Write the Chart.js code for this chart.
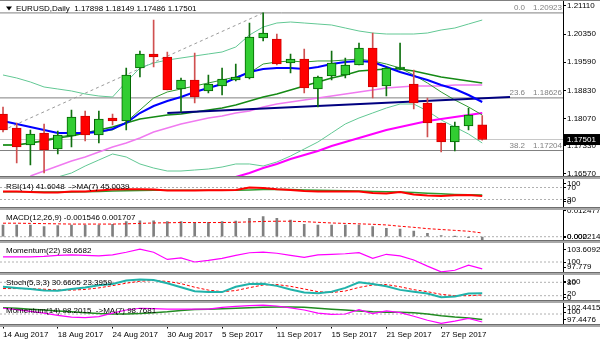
<!DOCTYPE html>
<html>
<head>
<meta charset="utf-8">
<style>
  html, body { margin: 0; padding: 0; background: #fff; }
  canvas { display: block; }
</style>
</head>
<body>
<canvas id="chart" width="600" height="343" style="width:600px;height:343px"></canvas>
<script src="https://cdn.jsdelivr.net/npm/chart.js@4.4.1/dist/chart.umd.min.js"></script>
<script>
// EURUSD daily, 14 Aug - 2 Oct 2017 (bar index 0..35)
const open = [1.18191, 1.17813, 1.17353, 1.17677, 1.17245, 1.17596, 1.18137, 1.17623, 1.18083, 1.18002,
  1.19434, 1.19813, 1.19731, 1.18867, 1.19110, 1.18813, 1.18948, 1.19110, 1.19164, 1.20245,
  1.20218, 1.19569, 1.19677, 1.18867, 1.19218, 1.19245, 1.19515, 1.19975, 1.18948, 1.19407,
  1.19002, 1.18488, 1.17948, 1.17434, 1.17867, 1.17898];
const high = [1.18380, 1.17948, 1.17759, 1.17921, 1.17732, 1.18299, 1.18272, 1.18272, 1.18191, 1.19434,
  1.19894, 1.20731, 1.19867, 1.19164, 1.19840, 1.19245, 1.19434, 1.19542, 1.20650, 1.20923,
  1.20353, 1.19813, 1.19948, 1.19218, 1.19894, 1.19704, 1.20110, 1.20380, 1.19461, 1.20110,
  1.19380, 1.18623, 1.17948, 1.17975, 1.18353, 1.18149];
const low = [1.17704, 1.16867, 1.16813, 1.16596, 1.17110, 1.17299, 1.17461, 1.17407, 1.17894, 1.17759,
  1.19191, 1.19461, 1.18840, 1.18245, 1.18488, 1.18759, 1.18704, 1.19083, 1.19137, 1.20164,
  1.19515, 1.19299, 1.18759, 1.18380, 1.19110, 1.19164, 1.19515, 1.18623, 1.18677, 1.19380,
  1.18326, 1.17569, 1.17164, 1.17191, 1.17759, 1.17486];
const close = [1.17759, 1.17299, 1.17650, 1.17218, 1.17623, 1.18110, 1.17623, 1.18056, 1.18002, 1.19245,
  1.19813, 1.19731, 1.18840, 1.19110, 1.18650, 1.19002, 1.19137, 1.19191, 1.20272, 1.20380,
  1.19542, 1.19677, 1.18894, 1.19191, 1.19569, 1.19515, 1.19975, 1.18921, 1.19434, 1.19461,
  1.18488, 1.17948, 1.17434, 1.17867, 1.18164, 1.17501];

// overlays on the price pane
const bbUpper = [1.19245, 1.19164, 1.19056, 1.18921, 1.18867, 1.18813, 1.18732, 1.18677, 1.18650, 1.19056,
  1.19434, 1.19569, 1.19650, 1.19704, 1.19759, 1.19813, 1.19867, 1.20002, 1.20326, 1.20542,
  1.20650, 1.20677, 1.20650, 1.20623, 1.20596, 1.20515, 1.20434, 1.20380, 1.20353, 1.20353,
  1.20353, 1.20380, 1.20461, 1.20515, 1.20623, 1.20731];
const bbMiddle = [1.17353, 1.17353, 1.17407, 1.17461, 1.17542, 1.17596, 1.17677, 1.17759, 1.17840, 1.17948,
  1.18056, 1.18110, 1.18164, 1.18191, 1.18245, 1.18299, 1.18353, 1.18434, 1.18542, 1.18650,
  1.18732, 1.18840, 1.18948, 1.19056, 1.19164, 1.19245, 1.19353, 1.19380, 1.19407, 1.19407,
  1.19353, 1.19272, 1.19191, 1.19137, 1.19083, 1.19029];
const bbLower = [null, null, null, null, 1.16488, 1.16596, 1.16785, 1.16948, 1.17110, 1.17029,
  1.16840, 1.16731, 1.16650, 1.16650, 1.16677, 1.16704, 1.16758, 1.16840, 1.16840, 1.16785,
  1.16894, 1.17056, 1.17245, 1.17434, 1.17677, 1.17921, 1.18083, 1.18218, 1.18353, 1.18461,
  1.18461, 1.18272, 1.18029, 1.17840, 1.17650, 1.17407];
const fastMa = [1.17353, 1.17353, 1.17407, 1.17488, 1.17569, 1.17623, 1.17677, 1.17704, 1.17759, 1.17975,
  1.18299, 1.18623, 1.18786, 1.18867, 1.18948, 1.19029, 1.19110, 1.19191, 1.19299, 1.19542,
  1.19596, 1.19624, 1.19596, 1.19624, 1.19624, 1.19650, 1.19677, 1.19624, 1.19542, 1.19434,
  1.19245, 1.19029, 1.18786, 1.18569, 1.18380, 1.18164];
const ma10 = [1.18002, 1.17921, 1.17840, 1.17759, 1.17677, 1.17677, 1.17677, 1.17704, 1.17786, 1.17948,
  1.18218, 1.18407, 1.18542, 1.18650, 1.18786, 1.18894, 1.19002, 1.19164, 1.19326, 1.19407,
  1.19434, 1.19434, 1.19407, 1.19461, 1.19542, 1.19596, 1.19624, 1.19596, 1.19461, 1.19326,
  1.19218, 1.19110, 1.18975, 1.18867, 1.18704, 1.18515];
const maPink = [null, null, 1.16515, 1.16650, 1.16785, 1.16921, 1.17029, 1.17164, 1.17299, 1.17407,
  1.17542, 1.17704, 1.17813, 1.17921, 1.18002, 1.18083, 1.18137, 1.18218, 1.18272, 1.18380,
  1.18461, 1.18515, 1.18569, 1.18623, 1.18677, 1.18732, 1.18786, 1.18840, 1.18894, 1.18921,
  1.18948, 1.18948, 1.18948, 1.18975, 1.18975, 1.18975];
const maMagenta = [null, null, null, null, null, null, null, null, null, null,
  null, null, null, null, null, null, null, 1.16488, 1.16596, 1.16731,
  1.16840, 1.16975, 1.17083, 1.17191, 1.17326, 1.17434, 1.17542, 1.17650, 1.17759, 1.17840,
  1.17921, 1.18002, 1.18056, 1.18110, 1.18164, 1.18218];
const trendX = [12, 37.03];
const trendY = [1.18218, 1.18650];
const fibTrendX = [0, 19];
const fibTrendY = [1.17750, 1.20923];
const fibLevels = [1.20923, 1.18626, 1.17204];
const fibNames = ['0.0', '23.6', '38.2'];
const fibText = ['1.20923', '1.18626', '1.17204'];
const bid = 1.17501;

// indicator panes
const rsi = [57, 57, 55, 53, 53, 57, 57, 60, 63, 64, 64, 63, 60, 60, 60, 61, 61, 62, 70, 68,
  64, 62, 58, 57, 57, 57, 57, 52, 50, 55, 47, 43, 42, 44, 45, 41.6048];
const rsiMa = [56, 56, 56, 55, 55, 55, 56, 57, 58, 59, 60, 61, 61, 61, 61, 61, 61, 61, 62, 63,
  63, 63, 62, 61, 60, 59, 58, 57, 56, 55, 53, 51, 49, 47, 46, 45.0039];
const macd = [0.00536, 0.00536, 0.00536, 0.00459, 0.00505, 0.00536, 0.00536, 0.00536, 0.00566, 0.00689,
  0.00734, 0.00734, 0.00689, 0.00689, 0.00658, 0.00658, 0.00689, 0.00719, 0.00842, 0.00918,
  0.00842, 0.00765, 0.00566, 0.00536, 0.00536, 0.00536, 0.00536, 0.00459, 0.00383, 0.00352,
  0.00260, 0.00153, 0.00046, 0.00005, -0.00046, -0.001546];
const macdSignal = [0.0062, 0.0062, 0.0061, 0.0060, 0.0059, 0.0058, 0.0058, 0.0058, 0.0058, 0.0059,
  0.0061, 0.0063, 0.0064, 0.0065, 0.0065, 0.0065, 0.0065, 0.0066, 0.0068, 0.0070,
  0.0071, 0.0071, 0.0069, 0.0066, 0.0063, 0.0061, 0.0059, 0.0057, 0.0054, 0.0048,
  0.0043, 0.0037, 0.0033, 0.0029, 0.0025, 0.001707];
const mom22 = [101.0, 101.0, 101.0, 101.1, 101.3, 101.4, 101.3, 101.2, 101.4, 101.9,
  102.5, 101.9, 100.5, 100.8, 100.0, 100.3, 100.7, 101.3, 101.8, 101.9,
  101.7, 101.3, 100.9, 101.4, 101.5, 101.6, 101.8, 100.7, 101.5, 101.2,
  100.4, 99.2, 98.1, 98.4, 99.4, 98.6682];
const stochMain = [60, 55, 50, 43, 42, 50, 57, 67, 72, 88, 92, 90, 76, 58, 40, 36, 36, 60, 72, 73,
  64, 48, 34, 31, 38, 55, 80, 72, 62, 46, 38, 30, 13, 16, 30, 30.6605];
const stochSignal = [52, 52, 51, 49, 46, 45, 48, 55, 65, 76, 85, 88, 84, 74, 58, 45, 38, 43, 56, 68,
  70, 62, 50, 38, 34, 41, 57, 68, 70, 60, 47, 38, 26, 20, 20, 23.3959];
const mom14 = [101.3, 101.0, 100.6, 100.2, 99.7, 99.3, 99.2, 99.4, 100.2, 100.9,
  101.3, 101.2, 101.1, 101.1, 101.1, 101.1, 101.5, 101.7, 101.9, 102.0,
  101.8, 101.4, 100.9, 100.2, 99.9, 100.0, 101.0, 100.1, 100.7, 100.3,
  99.5, 98.6, 97.9, 98.4, 99.0, 98.2015];
const mom14Ma = [101.4, 101.3, 101.1, 100.9, 100.7, 100.5, 100.3, 100.1, 100.0, 100.0,
  100.1, 100.3, 100.5, 100.8, 101.0, 101.1, 101.2, 101.3, 101.4, 101.5,
  101.6, 101.6, 101.5, 101.3, 101.1, 100.9, 100.7, 100.5, 100.4, 100.4,
  100.3, 100.0, 99.6, 99.3, 99.1, 98.7681];

// axis ticks
const dateIdx = [0, 4, 8, 12, 16, 20, 24, 28, 32];
const dateLabels = ['14 Aug 2017', '18 Aug 2017', '24 Aug 2017', '30 Aug 2017', '5 Sep 2017',
  '11 Sep 2017', '15 Sep 2017', '21 Sep 2017', '27 Sep 2017'];
const priceTicks = [1.21110, 1.20350, 1.19590, 1.18830, 1.18070, 1.17330, 1.16570];
const priceTickText = ['1.21110', '1.20350', '1.19590', '1.18830', '1.18070', '1.17330', '1.16570'];
const rsiTicks = [82, 70, 30, 23];
const rsiTickText = ['100', '70', '30', '0'];
const rsiLevels = [70, 30];
const macdTicks = [0.0120, 0, -0.0002];
const macdTickText = ['0.012477', '0.000', '0.002214'];
const mom22Ticks = [102.43, 100, 99.0];
const mom22TickText = ['103.6092', '100', '97.779'];
const stochTicks = [84, 80, 27, 12];
const stochTickText = ['100', '80', '20', '0'];
const stochLevels = [80, 20];
const mom14Ticks = [101.42, 100.45, 98.72];
const mom14TickText = ['102.4415', '100', '97.4476'];

const X_MIN = -0.22, X_MAX = 40.9;
const UP = '#32cd32', UP_EDGE = '#006400', DOWN = '#ff0000', DOWN_EDGE = '#d00000';

Chart.defaults.font.family = "'Liberation Sans', Arial, sans-serif";
Chart.defaults.font.size = 8;
Chart.defaults.color = '#000';

const pts = arr => arr.map((v, i) => v == null ? null : { x: i, y: v }).filter(Boolean);
const isUp = close.map((c, i) => c >= open[i]);
const noPad = s => { s.paddingTop = 0; s.paddingBottom = 0; s.paddingLeft = 0; s.paddingRight = 0; };

function line(yAxisID, data, color, width, order, dash) {
  return {
    type: 'line', xAxisID: 'x', yAxisID, data, borderColor: color, borderWidth: width,
    borderDash: dash || [], pointRadius: 0, fill: false, tension: 0, order
  };
}
function level(yAxisID, v, color, dash, order) {
  return line(yAxisID, [{ x: X_MIN, y: v }, { x: X_MAX, y: v }], color, 1, order, dash);
}
function tickAxis(ticks, text, min, max, weight) {
  return {
    type: 'linear', position: 'right', stack: 'panes', stackWeight: weight, min, max,
    afterBuildTicks: s => { s.ticks = ticks.map(v => ({ value: v })); },
    afterFit: s => { s.width = 37; noPad(s); },
    ticks: { autoSkip: false, padding: 1, color: '#000', callback: (v, i) => text[i] },
    grid: { drawOnChartArea: false, tickLength: 3, color: '#000' },
    border: { display: true, color: '#000' }
  };
}

const datasets = [
  { type: 'bar', xAxisID: 'x', yAxisID: 'price', order: 0, grouped: false, barThickness: 9,
    data: open.map((o, i) => ({ x: i, y: [o, close[i]] })),
    backgroundColor: isUp.map(u => u ? UP : DOWN),
    borderColor: isUp.map(u => u ? UP_EDGE : DOWN_EDGE),
    borderWidth: 1, borderSkipped: false },
  { type: 'bar', xAxisID: 'x', yAxisID: 'price', order: 1, grouped: false, barThickness: 1,
    data: low.map((l, i) => ({ x: i, y: [l, high[i]] })),
    backgroundColor: isUp.map(u => u ? '#107010' : '#d05050'), borderWidth: 0 },
  line('price', pts(ma10), '#0000ff', 2, 2),
  line('price', trendX.map((x, i) => ({ x, y: trendY[i] })), '#000080', 2, 3),
  line('price', pts(bbMiddle), '#158a15', 1.5, 4),
  line('price', pts(fastMa), '#2f9a2f', 1, 5),
  line('price', pts(maMagenta), '#ff00ff', 2, 6),
  line('price', pts(maPink), '#f07af0', 1.5, 7),
  line('price', pts(bbUpper), '#62c894', 1, 8),
  line('price', pts(bbLower), '#62c894', 1, 8),
  line('price', fibTrendX.map((x, i) => ({ x, y: fibTrendY[i] })), '#9a9a9a', 1, 9, [3, 3]),
  ...fibLevels.map(v => level('price', v, '#808080', [], 10)),
  level('price', bid, '#c8c8c8', [], 10),

  ...rsiLevels.map(v => level('rsi', v, '#b0b0b0', [2, 2], 10)),
  line('rsi', pts(rsiMa), '#2e9b2e', 1.5, 3),
  line('rsi', pts(rsi), '#ff0000', 2, 2),

  level('macd', 0, '#b0b0b0', [2, 2], 10),
  { type: 'bar', xAxisID: 'x', yAxisID: 'macd', order: 4, grouped: false, barThickness: 2,
    data: pts(macd), backgroundColor: '#808080', borderWidth: 0 },
  line('macd', pts(macdSignal), '#ff0000', 1, 2, [3, 2]),

  level('mom22', 100, '#b0b0b0', [2, 2], 10),
  line('mom22', pts(mom22), '#ff00ff', 1.2, 2),

  ...stochLevels.map(v => level('stoch', v, '#b0b0b0', [2, 2], 10)),
  line('stoch', pts(stochSignal), '#ff0000', 1, 3, [3, 2]),
  line('stoch', pts(stochMain), '#20b2aa', 2, 2),

  level('mom14', 100, '#b0b0b0', [2, 2], 10),
  line('mom14', pts(mom14Ma), '#228b22', 1.5, 3),
  line('mom14', pts(mom14), '#ff00ff', 1.2, 2)
];

const paneText = {
  rsi: 'RSI(14) 41.6048  ->MA(7) 45.0039',
  macd: 'MACD(12,26,9) -0.001546 0.001707',
  mom22: 'Momentum(22) 98.6682',
  stoch: 'Stoch(5,3,3) 30.6605 23.3959',
  mom14: 'Momentum(14) 98.2015  ->MA(7) 98.7681'
};
const paneIds = ['price', 'rsi', 'macd', 'mom22', 'stoch', 'mom14'];

const decor = {
  id: 'decor',
  afterDatasetsDraw(chart) {
    const ctx = chart.ctx;
    ctx.save();
    ctx.fillStyle = '#808080';
    ctx.fillRect(0, 0, 600, 1);
    paneIds.forEach(id => {
      const b = chart.scales[id].bottom;
      ctx.fillStyle = '#a8a8a8';
      ctx.fillRect(0, b - 1.5, 600, 3);
      ctx.fillStyle = '#6e6e6e';
      ctx.fillRect(0, b - 1.5, 600, 1);
    });
    ctx.restore();
  },
  afterDraw(chart) {
    const ctx = chart.ctx;
    const ps = chart.scales.price;
    ctx.save();
    ctx.font = "8px 'Liberation Sans', Arial, sans-serif";
    ctx.textBaseline = 'middle';
    ctx.fillStyle = '#000';
    ctx.textAlign = 'left';
    ctx.fillText('EURUSD,Daily  1.17898 1.18149 1.17486 1.17501', 16, 8.5);
    ctx.beginPath();
    ctx.moveTo(6, 6.5); ctx.lineTo(12, 6.5); ctx.lineTo(9, 10.5); ctx.closePath();
    ctx.fill();

    Object.keys(paneText).forEach(id => {
      ctx.fillText(paneText[id], 6, chart.scales[id].top + 9);
    });

    ctx.fillStyle = '#808080';
    ctx.textBaseline = 'bottom';
    ctx.textAlign = 'right';
    fibLevels.forEach((v, i) => {
      const y = ps.getPixelForValue(v) - 1;
      ctx.fillText(fibNames[i], 525, y);
      ctx.fillText(fibText[i], 562, y);
    });

    const by = ps.getPixelForValue(bid);
    ctx.fillStyle = '#000';
    ctx.fillRect(563, by - 5.5, 37, 11);
    ctx.fillStyle = '#fff';
    ctx.textAlign = 'left';
    ctx.textBaseline = 'middle';
    ctx.fillText('1.17501', 567, by);
    ctx.restore();
  }
};

new Chart(document.getElementById('chart'), {
  data: { datasets },
  options: {
    responsive: false,
    animation: false,
    devicePixelRatio: 1,
    events: [],
    layout: { autoPadding: false, padding: 0 },
    plugins: { legend: { display: false }, tooltip: { enabled: false } },
    scales: {
      x: {
        type: 'linear', position: 'bottom', min: X_MIN, max: X_MAX, offset: false,
        afterBuildTicks: s => { s.ticks = dateIdx.map(v => ({ value: v })); },
        afterFit: s => { s.height = 17.5; noPad(s); },
        ticks: { autoSkip: false, maxRotation: 0, align: 'start', padding: 1, color: '#000',
          callback: (v, i) => dateLabels[i] },
        grid: { drawOnChartArea: false, tickLength: 3, color: '#000', offset: false },
        border: { display: true, color: '#000' }
      },
      y: { display: false },
      price: tickAxis(priceTicks, priceTickText, 1.164747, 1.21272, 177.5),
      rsi: tickAxis(rsiTicks, rsiTickText, 0, 103.3, 31),
      macd: tickAxis(macdTicks, macdTickText, -0.0022, 0.01294, 33),
      mom22: tickAxis(mom22Ticks, mom22TickText, 97.77, 103.98, 32),
      stoch: tickAxis(stochTicks, stochTickText, -6, 119.4, 28),
      mom14: tickAxis(mom14Ticks, mom14TickText, 97.41, 102.82, 24)
    }
  },
  plugins: [decor]
});
</script>
</body>
</html>
